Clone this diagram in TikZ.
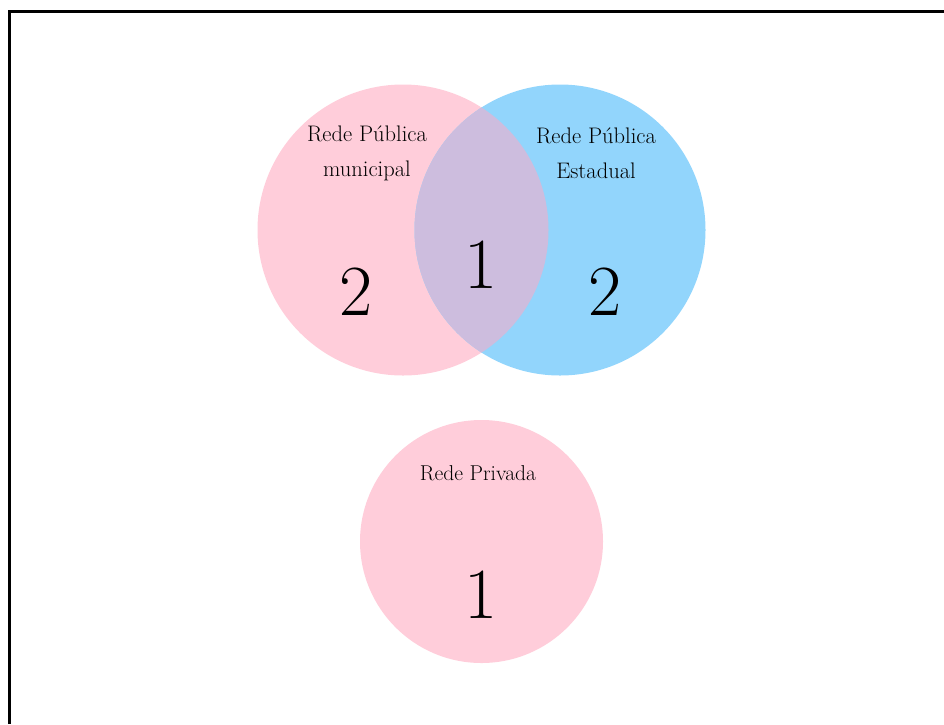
\documentclass[tikz,border=0pt]{standalone}
\begin{document}
\begin{tikzpicture}[x=1pt,y=-1pt,
  pinkfill/.style={fill=vpink,draw=none},
  bluefill/.style={fill=vblue,draw=none},
  lbl/.style={font=\fontsize{22.5}{35}\selectfont,align=center,text=black},
  num/.style={font=\fontsize{72}{80}\selectfont,text=black}]
\definecolor{vpink}{RGB}{255,205,218}
\definecolor{vblue}{RGB}{146,213,252}
\definecolor{vmix}{RGB}{205,189,222}
\useasboundingbox (0,0) rectangle (944,724);
\draw[line width=3pt] (9.5,724) -- (9.5,11.5) -- (944,11.5);
% circles
\path[pinkfill] (403,230) circle[radius=145.5];
\path[bluefill] (560,230) circle[radius=145.5];
\begin{scope}
  \clip (403,230) circle[radius=145.5];
  \path[fill=vmix] (560,230) circle[radius=145.5];
\end{scope}
\path[pinkfill] (481.5,541.5) circle[radius=121.5];
% labels
\node[lbl] (lm) at (367,153) {Rede Pública\\municipal};
\node[lbl] (le) at (596,153) {Rede Pública\\Estadual};
\node[lbl,font=\fontsize{21.5}{30}\selectfont] (lp) at (478,473) {Rede Privada};
\node[num] (n1) at (356,292) {2};
\node[num] (n2) at (481,265) {1};
\node[num] (n3) at (605,292) {2};
\node[num] (n4) at (481,595) {1};
\end{tikzpicture}
\end{document}
